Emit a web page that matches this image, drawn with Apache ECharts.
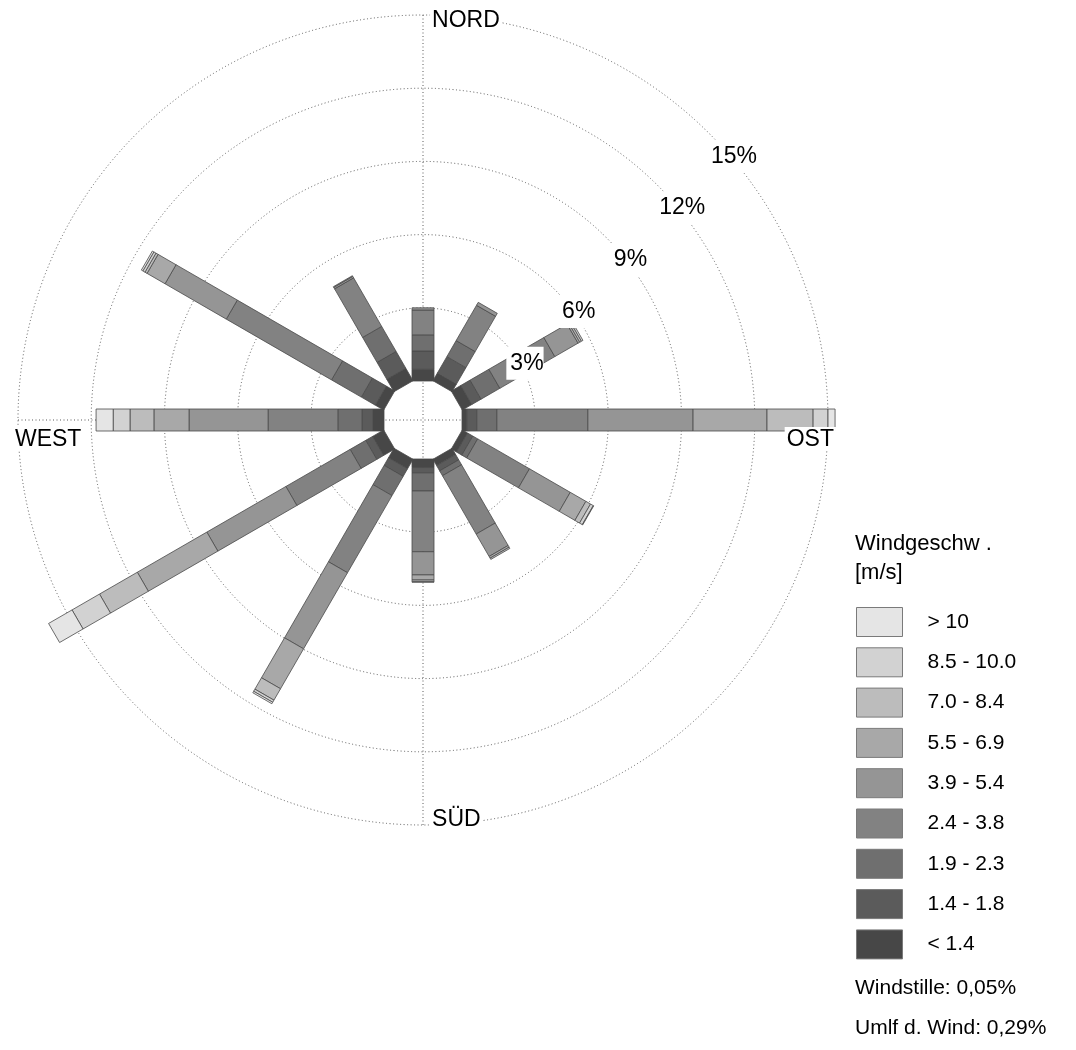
<!DOCTYPE html>
<html>
<head>
<meta charset="utf-8">
<title>Windrose</title>
<script src="https://cdn.jsdelivr.net/npm/echarts@6/dist/echarts.min.js"></script>
<style>
  html, body { margin: 0; padding: 0; background: #fff; }
  #main { width: 1076px; height: 1050px; }
</style>
</head>
<body>
<div id="main"></div>
<script>
// Richtungen in Grad, im Uhrzeigersinn ab Nord
var dirAngles = [0, 30, 60, 90, 120, 150, 180, 210, 240, 270, 300, 330];
var dirNames = ['N', 'NNO', 'ONO', 'O', 'OSO', 'SSO', 'S', 'SSW', 'WSW', 'W', 'WNW', 'NNW'];

// Windgeschwindigkeitsklassen, von innen nach aussen
var classNames = ['< 1.4', '1.4 - 1.8', '1.9 - 2.3', '2.4 - 3.8', '3.9 - 5.4', '5.5 - 6.9', '7.0 - 8.4', '8.5 - 10.0', '> 10'];
var classColors = ['#474747', '#5b5b5b', '#6f6f6f', '#828282', '#959595', '#a8a8a8', '#bcbcbc', '#d2d2d2', '#e5e5e5'];

// Haeufigkeit in % je Klasse (Reihenfolge wie dirAngles)
var cls1 = [0.48, 0.36, 0.45, 0.20, 0.25, 0.30, 0.35, 0.45, 0.53, 0.45, 0.40, 0.59];
var cls2 = [0.75, 0.78, 0.44, 0.41, 0.25, 0.25, 0.22, 0.36, 0.32, 0.45, 0.66, 0.80];
var cls3 = [0.66, 0.76, 0.89, 0.82, 0.23, 0.23, 0.74, 0.91, 0.74, 0.99, 1.41, 1.18];
var cls4 = [1.02, 1.67, 2.60, 3.73, 2.45, 2.76, 2.49, 3.65, 3.04, 2.86, 4.98, 2.30];
var cls5 = [0.09, 0.14, 1.10, 4.31, 1.93, 1.06, 0.95, 3.60, 3.74, 3.24, 2.90, 0.07];
var cls6 = [0.00, 0.00, 0.08, 3.03, 0.74, 0.08, 0.21, 1.89, 3.29, 1.44, 0.85, 0.03];
var cls7 = [0.00, 0.00, 0.08, 1.89, 0.22, 0.06, 0.07, 0.54, 1.79, 0.98, 0.10, 0.00];
var cls8 = [0.00, 0.00, 0.07, 0.61, 0.13, 0.00, 0.02, 0.10, 1.30, 0.69, 0.10, 0.00];
var cls9 = [0.00, 0.00, 0.00, 0.29, 0.02, 0.00, 0.00, 0.07, 1.11, 0.70, 0.07, 0.00];
var classValues = [cls1, cls2, cls3, cls4, cls5, cls6, cls7, cls8, cls9];

var pctTicks = [3, 6, 9, 12, 15];
var compassNames = ['NORD', 'OST', 'SÜD', 'WEST'];
var compassAngles = [0, 90, 180, 270];

var chart = echarts.init(document.getElementById('main'));

var CX = 423, CY = 420;
var R0 = 39, R15 = 405;
var R3 = R0 + (R15 - R0) * 3 / 15;
var BAR_HALF = 11;
var dotted = { color: '#5a5a5a', width: 1, type: [1, 2.5] };

// Balken als Rechtecke mit fester Breite
function renderSeg(params, api) {
  var ang = api.value(0), v0 = api.value(1), v1 = api.value(2);
  if (!(v1 > v0)) return;
  var p0 = api.coord([v0, ang]);
  var p1 = api.coord([v1, ang]);
  var dx = p1[0] - p0[0], dy = p1[1] - p0[1];
  var len = Math.sqrt(dx * dx + dy * dy);
  var nx = -dy / len * BAR_HALF, ny = dx / len * BAR_HALF;
  return {
    type: 'polygon',
    shape: { points: [
      [p0[0] + nx, p0[1] + ny], [p1[0] + nx, p1[1] + ny],
      [p1[0] - nx, p1[1] - ny], [p0[0] - nx, p0[1] - ny]
    ] },
    style: { fill: api.visual('color'), stroke: '#4a4a4a', lineWidth: 0.8 }
  };
}

// gestapelte Werte
var cum = dirAngles.map(function () { return 0; });
var series = classNames.map(function (name, k) {
  var data = dirAngles.map(function (a, i) {
    var s = cum[i];
    cum[i] += classValues[k][i];
    return [a, s, cum[i]];
  });
  return {
    type: 'custom',
    name: name,
    coordinateSystem: 'polar',
    polarIndex: 0,
    encode: { angle: 0, radius: [1, 2] },
    itemStyle: { color: classColors[k] },
    renderItem: renderSeg,
    silent: true,
    z: 2,
    data: data
  };
});

var compassPos = [
  { position: 'right', distance: 7, offset: [0, 6] },
  { position: [8, 7], align: 'right' },
  { position: 'right', distance: 7, offset: [0, -5] },
  { position: [-5, 7], align: 'left' }
];
series.push({
  type: 'scatter',
  coordinateSystem: 'polar',
  polarIndex: 0,
  symbolSize: 0.1,
  itemStyle: { color: 'transparent', opacity: 1 },
  silent: true,
  z: 10,
  label: {
    show: true, formatter: '{b}', fontSize: 23, color: '#000', opacity: 1,
    backgroundColor: '#fff', padding: [1, 2, 0, 2]
  },
  data: compassNames.map(function (n, i) {
    return { name: n, value: [15, compassAngles[i]], label: compassPos[i] };
  })
});

var hiddenAngle = { type: 'value', min: 0, max: 360, startAngle: 90, axisLine: { show: false }, axisTick: { show: false }, axisLabel: { show: false }, splitLine: { show: false } };
var hiddenRadius = { type: 'value', axisLine: { show: false }, axisTick: { show: false }, axisLabel: { show: false }, splitLine: { show: false } };

var option = {
  backgroundColor: '#fff',
  animation: false,
  textStyle: { fontFamily: 'Liberation Sans, Arial, sans-serif' },
  title: [
    { text: 'Windgeschw .\n[m/s]', left: 855, top: 529, padding: 0,
      textStyle: { fontSize: 22, lineHeight: 29, fontWeight: 'normal', color: '#000' } },
    { text: 'Windstille: 0,05%', left: 855, top: 978, padding: 0,
      textStyle: { fontSize: 21, fontWeight: 'normal', color: '#000' } },
    { text: 'Umlf d. Wind: 0,29%', left: 855, top: 1018, padding: 0,
      textStyle: { fontSize: 21, fontWeight: 'normal', color: '#000' } }
  ],
  legend: {
    orient: 'vertical', left: 856, top: 607, padding: 0,
    icon: 'rect', itemWidth: 46, itemHeight: 29, itemGap: 10.3,
    selectedMode: false,
    itemStyle: { borderColor: '#7a7a7a', borderWidth: 1 },
    textStyle: { fontSize: 21, color: '#000', padding: [0, 0, 0, 20] },
    data: classNames.slice().reverse()
  },
  polar: [
    { center: [CX, CY], radius: [R0, R15] },
    { center: [CX, CY], radius: [R3, R15] },
    { center: [CX, CY], radius: [0, R15] },
    { center: [CX, CY], radius: [R3, R15] }
  ],
  angleAxis: [
    Object.assign({}, hiddenAngle, { polarIndex: 0 }),
    Object.assign({}, hiddenAngle, { polarIndex: 1 }),
    Object.assign({}, hiddenAngle, { polarIndex: 2, interval: 90, splitLine: { show: true, lineStyle: dotted } }),
    Object.assign({}, hiddenAngle, { polarIndex: 3, startAngle: 45 })
  ],
  radiusAxis: [
    Object.assign({}, hiddenRadius, { polarIndex: 0, min: 0, max: 15 }),
    Object.assign({}, hiddenRadius, { polarIndex: 1, min: 3, max: 15, interval: 3, splitLine: { show: true, lineStyle: dotted } }),
    Object.assign({}, hiddenRadius, { polarIndex: 2, min: 0, max: 15 }),
    Object.assign({}, hiddenRadius, {
      polarIndex: 3, min: 3, max: 15, interval: 3, z: 10,
      axisLabel: {
        show: true, formatter: '{value}%', margin: -32, fontSize: 23, color: '#000',
        align: 'center', verticalAlign: 'middle',
        backgroundColor: '#fff', padding: [2, 0, 8, 4],
        customValues: pctTicks
      }
    })
  ],
  series: series
};

chart.setOption(option);
</script>
</body>
</html>
